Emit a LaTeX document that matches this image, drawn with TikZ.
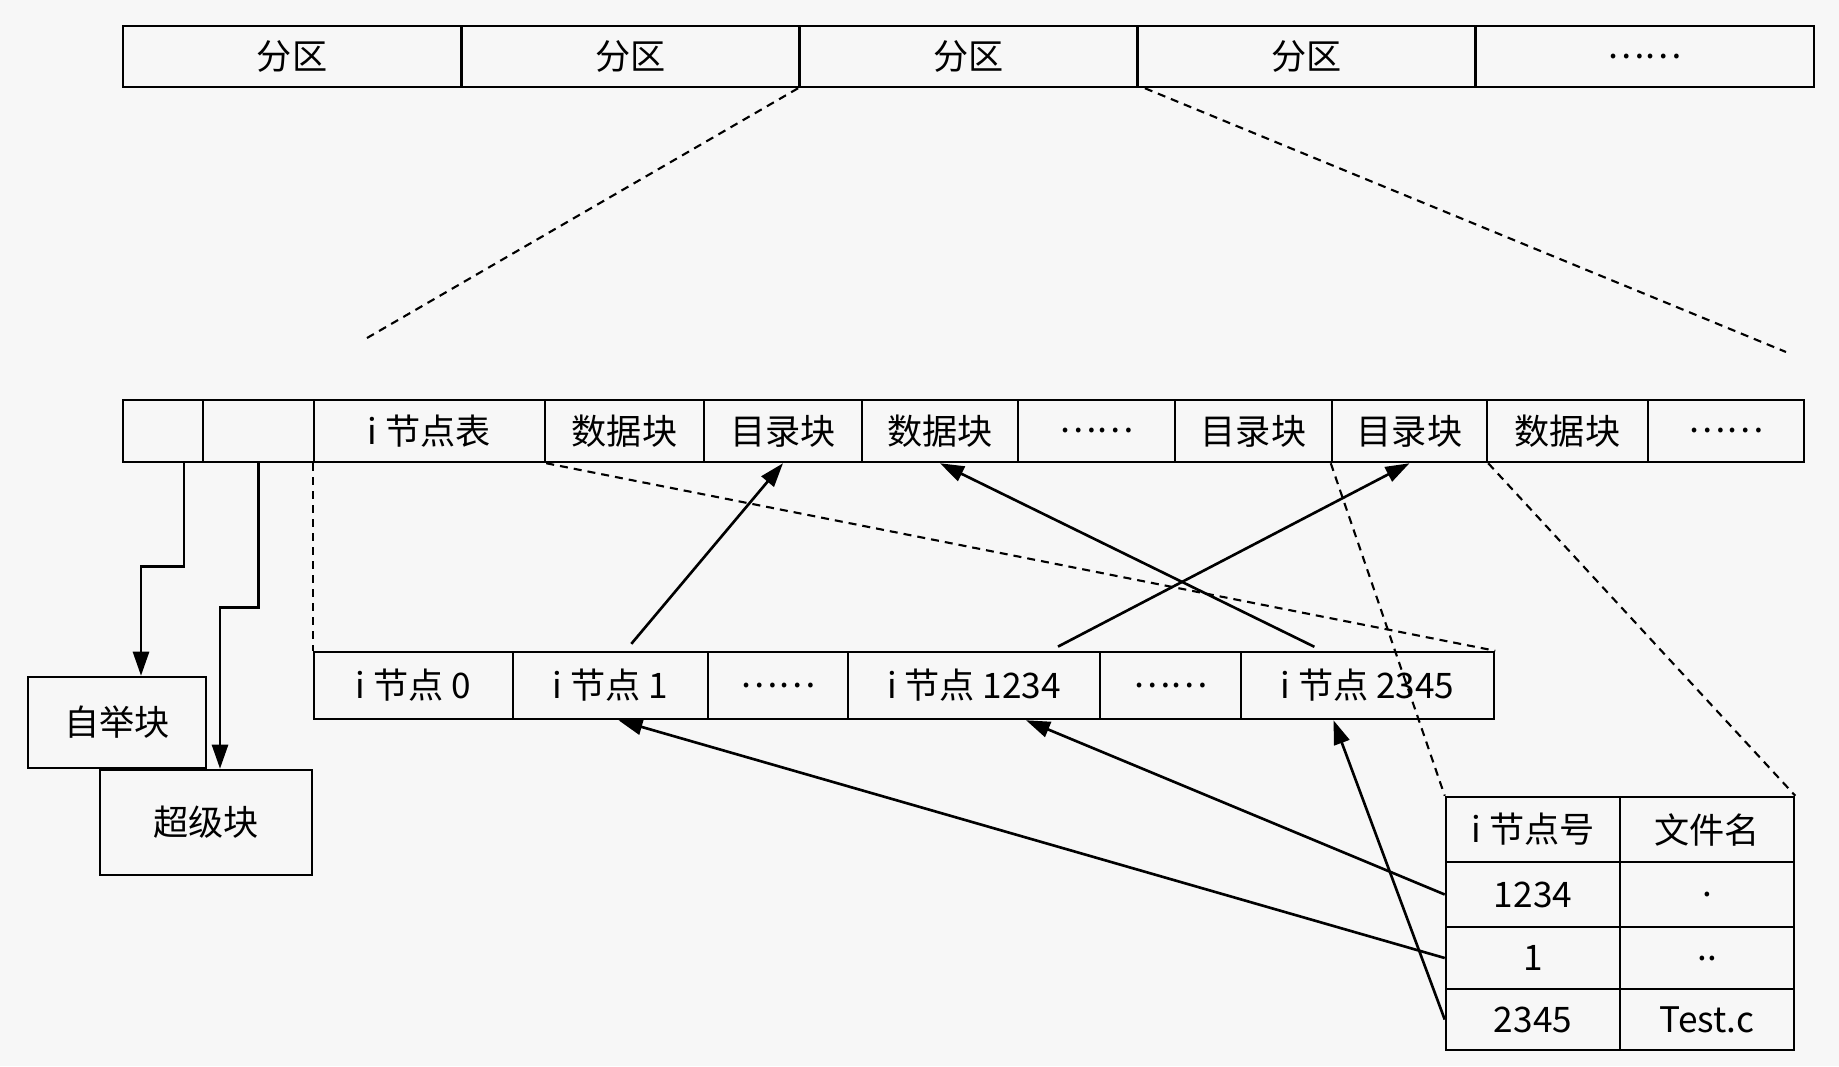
\documentclass[tikz,border=0pt]{standalone}
\usepackage{fontspec}
\setmainfont{Noto Sans CJK SC}
\usetikzlibrary{arrows.meta}

\tikzset{
  blk/.style={draw, line width=0.7pt, inner sep=0pt, font=\fontsize{10}{12}\selectfont},
  guide/.style={line width=0.6pt, dash pattern=on 0.8mm off 0.6mm},
  link/.style={line width=0.75pt, -{Triangle[length=2.4mm,width=1.6mm]}}
}

\begin{document}
\begin{tikzpicture}[x=0.01cm, y=-0.01cm]
  \fill[black!3] (0,0) rectangle (1839,1066);

  % partitions
  \foreach \t [count=\i] in {分区,分区,分区,分区,……}
    \node[blk, minimum width=3.382cm, minimum height=0.61cm] (p\i) at ({123+338.2*(\i-0.5)},56.5) {\t};

  % blocks of one partition
  \foreach \l/\r/\t [count=\i] in {123/203/{},203/314/{},314/545/{i 节点表},545/704/数据块,704/862/目录块,862/1018/数据块,1018/1175/……,1175/1332/目录块,1332/1487/目录块,1487/1648/数据块,1648/1804/……}
    \node[blk, minimum width={(\r-\l)*0.01cm}, minimum height=0.62cm] (b\i) at ({(\l+\r)/2},431) {\t};

  \node[blk, minimum width=1.78cm, minimum height=0.91cm] (boot) at (117,722.5) {自举块};
  \node[blk, minimum width=2.12cm, minimum height=1.05cm] (super) at (206,822.5) {超级块};

  % i-node table
  \foreach \l/\r/\t [count=\i] in {314/513/{i 节点 0},513/708/{i 节点 1},708/848/……,848/1100/{i 节点 1234},1100/1241/……,1241/1494/{i 节点 2345}}
    \node[blk, minimum width={(\r-\l)*0.01cm}, minimum height=0.67cm] (n\i) at ({(\l+\r)/2},685.5) {\t};

  % directory
  \foreach \tp/\bt/\a/\b [count=\j] in {797/862/{i 节点号}/文件名,862/927/1234/.,927/989/1/..,989/1050/2345/Test.c} {
    \node[blk, minimum width=1.74cm, minimum height={(\bt-\tp)*0.01cm}] (da\j) at (1533,{(\tp+\bt)/2}) {\a};
    \node[blk, minimum width=1.74cm, minimum height={(\bt-\tp)*0.01cm}] (db\j) at (1707,{(\tp+\bt)/2}) {\b};
  }

  \coordinate (zl) at (367,338);
  \coordinate (zr) at (1786,352);

  \draw[guide] (p3.south west) -- (zl);
  \draw[guide] ([xshift=0.6mm]p3.south east) -- (zr);

  \draw[link] ([xshift=2.1mm]b1.south) -- ++(0,103) -| ([xshift=2.4mm]boot.north);
  \draw[link] (b2.south) -- ++(0,144) -| ([xshift=1.4mm]super.north);

  \draw[guide] (b3.south west) -- (n1.north west);
  \draw[guide] (b3.south east) -- (n6.north east);

  \draw[link, shorten <=0.9mm] ([xshift=1.5mm]n2.north) -- (b5.south);
  \draw[link, shorten <=0.9mm] ([xshift=7.6mm]n4.north) -- (b9.south);
  \draw[link, shorten <=0.9mm] ([xshift=-4.5mm]n6.north) -- (b6.south);

  \draw[guide] (b9.south west) -- (da1.north west);
  \draw[guide] (b9.south east) -- (db1.north east);

  \draw[link] (da2.west) -- ([xshift=5.2mm]n4.south);
  \draw[link] (da3.west) -- ([xshift=0.8mm]n2.south);
  \draw[link] (da4.west) -- ([xshift=-3.4mm]n6.south);
\end{tikzpicture}
\end{document}
